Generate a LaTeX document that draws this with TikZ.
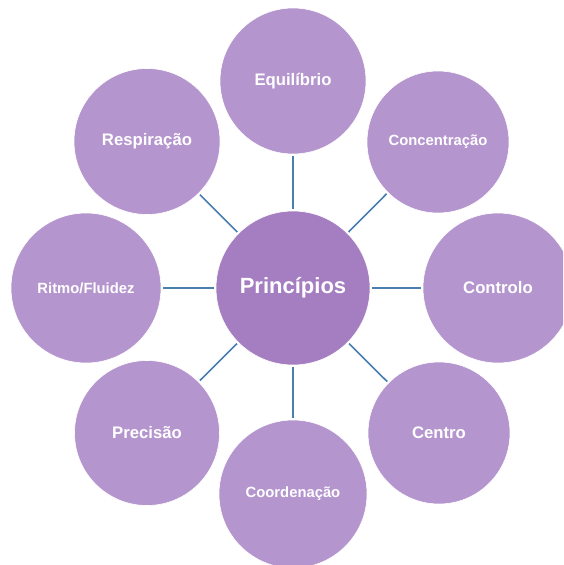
\documentclass[tikz,border=0pt]{standalone}
\usepackage{fontspec}
\setmainfont{Liberation Sans}
\definecolor{outerfill}{HTML}{B495CE}
\definecolor{hubfill}{HTML}{A57EC2}
\definecolor{linkblue}{HTML}{4A7EAE}
\tikzset{
  bubble/.style={circle, fill=outerfill, draw=white, line width=0.6pt,
    inner sep=0pt, outer sep=0pt, minimum size=146pt,
    text=white, font=\bfseries\fontsize{16.7}{18}\selectfont},
  smalltext/.style={font=\bfseries\fontsize{14.8}{16}\selectfont},
  hub/.style={circle, fill=hubfill, draw=white, line width=0.6pt,
    inner sep=0pt, outer sep=0pt, minimum size=154pt,
    text=white, font=\bfseries\fontsize{22}{24}\selectfont},
  link/.style={draw=linkblue, line width=1.6pt, shorten <=2pt, shorten >=2pt}
}
\begin{document}
\begin{tikzpicture}[x=1pt, y=-1pt]
  \useasboundingbox (0,0) rectangle (563,565);
  \begin{scope}
    \clip (0,0) rectangle (563,565);
    % central node
    \node[hub] (hub) at (293,288) {Princípios};
    % surrounding principles
    \node[bubble] (equ) at (293,81) {Equilíbrio};
    \node[bubble, smalltext, minimum size=142pt] (con) at (438,142) {Concentração};
    \node[bubble, minimum size=150pt] (ctl) at (498,288) {Controlo};
    \node[bubble, minimum size=142pt] (cen) at (439,433) {Centro};
    \node[bubble, smalltext, minimum size=148pt] (coo) at (293,494) {Coordenação};
    \node[bubble, minimum size=145pt] (pre) at (147,433) {Precisão};
    \node[bubble, smalltext, minimum size=150pt] (rit) at (86,288) {Ritmo/Fluidez};
    \node[bubble] (res) at (147,141.5) {Respiração};
    % spokes
    \foreach \n in {equ,con,ctl,cen,coo,pre,rit,res}
      \draw[link] (hub) -- (\n);
  \end{scope}
\end{tikzpicture}
\end{document}
